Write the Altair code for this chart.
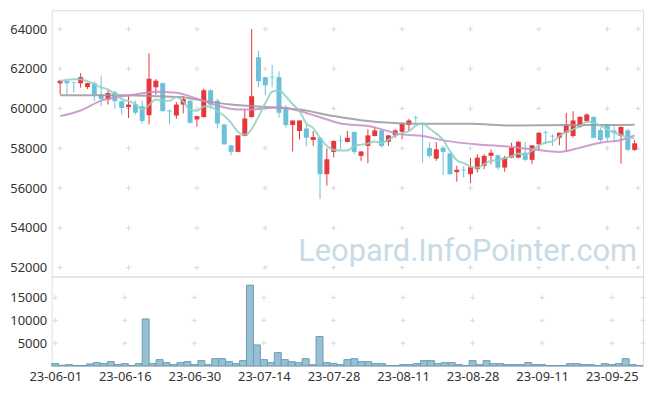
import altair as alt
import pandas as pd
import numpy as np

# ---------------- data ----------------
tick_idx = [0, 10, 20, 30, 40, 50, 60, 70, 80]
tick_labels = ["23-06-01", "23-06-16", "23-06-30", "23-07-14", "23-07-28",
               "23-08-11", "23-08-28", "23-09-11", "23-09-25"]

opens = [61270, 61400, 61330, 61270, 61080, 61280, 60700, 60450, 60820, 60370,
         60070, 60220, 60120, 59665, 61070, 61280, 59900, 59650, 60200, 60400,
         59450, 59570, 60920, 60400, 59200, 58150, 57820, 58620, 59570, 62580,
         61580, 61600, 61580, 60080, 59170, 58870, 59000, 58420, 58530, 56700,
         57820, 58400, 58320, 58820, 57620, 58120, 58620, 58900, 58330, 58650,
         58830, 59170, 59550, 59250, 58020, 57480, 58030, 57750, 56800, 56930,
         56700, 56950, 57120, 57620, 57650, 57030, 57530, 57530, 57780, 57420,
         58200, 58800, 58630, 58530, 58780, 58620, 59080, 59370, 59580, 58920,
         59200, 58900, 58620, 58900, 57920]
highs = [61450, 61420, 61350, 61780, 61300, 61370, 61650, 60950, 60900, 60400,
         60620, 60400, 60400, 62780, 61480, 61300, 59950, 60320, 60620, 60420,
         59620, 61000, 60980, 60500, 59220, 58170, 58650, 59950, 64000, 62900,
         61600, 62200, 61870, 60170, 59400, 59400, 59200, 58870, 58550, 58000,
         58400, 58650, 58870, 58850, 57850, 58950, 59070, 58950, 58650, 58950,
         59320, 59480, 59650, 59270, 58300, 58300, 58120, 57770, 57120, 57100,
         57530, 57700, 57700, 57950, 57670, 57620, 58280, 58370, 58320, 58150,
         58820, 58900, 58700, 58780, 59780, 59870, 59620, 59750, 59600, 59030,
         59200, 59200, 59080, 58980, 58420]
lows = [60700, 60700, 60800, 61050, 60980, 60370, 60120, 60200, 59990, 59700,
        59520, 59700, 59250, 59200, 60700, 59850, 59200, 59480, 59750, 59250,
        59080, 59550, 59950, 59000, 58180, 57650, 57800, 58600, 59550, 61070,
        60670, 61070, 59540, 59040, 57840, 58450, 58120, 58120, 55450, 56120,
        57540, 57950, 58300, 57700, 57370, 57250, 58600, 58050, 58120, 58530,
        58450, 58870, 59300, 57280, 57530, 57370, 56650, 56650, 56320, 56530,
        56250, 56790, 56950, 57200, 56920, 56820, 57500, 57500, 57370, 57200,
        57950, 58200, 58120, 58150, 57820, 58530, 59030, 59280, 58500, 58320,
        58370, 58320, 57230, 57870, 57870]
closes = [61400, 61270, 61300, 61580, 61280, 60700, 60480, 60780, 60370, 60030,
          60200, 59790, 59370, 61500, 61400, 59870, 59850, 60200, 60480, 59280,
          59620, 60920, 60200, 59250, 58200, 57820, 58650, 59500, 60620, 61370,
          61170, 61570, 59790, 59170, 59400, 59400, 58530, 58570, 56700, 57450,
          58370, 58370, 58530, 57820, 57840, 58650, 58900, 58120, 58650, 58900,
          59230, 59400, 59520, 59200, 57620, 57950, 57820, 56700, 56920, 56890,
          57050, 57530, 57620, 57780, 57030, 57530, 58030, 58330, 57420, 58150,
          58780, 58770, 58600, 58780, 59200, 59400, 59580, 59700, 58530, 58420,
          58530, 58780, 59080, 57920, 58250]
volumes = [510, 150, 290, 100, 100, 440, 730, 510, 950, 290,
           510, 100, 510, 10300, 510, 1390, 730, 290, 730, 950,
           290, 1170, 290, 1600, 1600, 950, 510, 1170, 17700, 4600,
           1390, 730, 2920, 1390, 950, 730, 1600, 290, 6450, 730,
           510, 290, 1390, 1600, 950, 950, 510, 510, 100, 100,
           290, 290, 510, 1170, 1170, 510, 730, 730, 290, 100,
           1170, 290, 1170, 510, 510, 290, 290, 290, 730, 290,
           290, 100, 100, 100, 510, 510, 290, 290, 100, 510,
           290, 510, 1600, 290, 100]

# first four MA5 values (need data before the window)
ma5_head = [61370, 61450, 61480, 61470]

# MA20 (purple) and MA60 (gray)
ma20_idx = [0, 3, 6, 10, 14, 17, 20, 23, 26, 28, 32, 35, 39, 41, 45, 50, 53, 56,
            62, 65, 69, 73, 76, 79, 82, 84]
ma20_val = [59620, 59900, 60400, 60650, 60850, 60800, 60500, 60150, 59950, 59950,
            60070, 59880, 59450, 59250, 59120, 58700, 58620, 58400, 58170, 58100,
            57950, 57820, 58030, 58280, 58420, 58650]
ma60_idx = [0, 10, 14, 18, 20, 25, 30, 35, 40, 45, 50, 55, 60, 66, 75, 84]
ma60_val = [60670, 60670, 60620, 60570, 60450, 60200, 60080, 59950, 59620, 59370,
            59250, 59230, 59230, 59150, 59170, 59180]

price_ticks = [52000, 54000, 56000, 58000, 60000, 62000, 64000]
vol_ticks = [5000, 10000, 15000]

# ---------------- tables ----------------
n = len(opens)
df = pd.DataFrame({"i": list(range(n)), "open": opens, "high": highs,
                   "low": lows, "close": closes, "vol": volumes})
df["dir"] = np.where(df["close"] >= df["open"], "up", "down")
df["x0"] = df["i"] - 0.5
df["x1"] = df["i"] + 0.5
df["zero"] = 0
ma5 = df["close"].rolling(5).mean()
ma5.iloc[:4] = ma5_head
df["ma5"] = ma5

ma20_df = pd.DataFrame({"i": ma20_idx, "v": ma20_val})
ma60_df = pd.DataFrame({"i": ma60_idx, "v": ma60_val})

cross_x = tick_idx + [n - 0.5]
cross_p = pd.DataFrame([(a, b) for a in cross_x for b in price_ticks], columns=["i", "v"])
cross_v = pd.DataFrame([(a, b) for a in cross_x for b in vol_ticks], columns=["i", "v"])

label_expr = "[" + ",".join("'%s'" % t for t in tick_labels) + "][floor(datum.value/10)]"

FONT = "Noto Sans"
xscale = alt.Scale(domain=[-0.5, n - 0.5], nice=False, zero=False)
pscale = alt.Scale(domain=[51550, 64950], nice=False, zero=False)
vscale = alt.Scale(domain=[0, 19600], nice=False)
W = 595

color = alt.Color("dir:N", scale=alt.Scale(domain=["up", "down"],
                                           range=["#e8363b", "#6cc1d9"]), legend=None)

yaxis_p = alt.Axis(values=price_ticks, grid=False, ticks=False, domain=False,
                   labelFontSize=13, labelColor="#333333", labelFont=FONT, format="d",
                   labelPadding=5, title=None)
yaxis_v = alt.Axis(values=vol_ticks, grid=False, ticks=False, domain=False,
                   labelFontSize=13, labelColor="#333333", labelFont=FONT, format="d",
                   labelPadding=5, title=None)

cross_shape = "M-1,0L1,0M0,-1L0,1"

base = alt.Chart(df)

p_cross = alt.Chart(cross_p).mark_point(shape=cross_shape, size=25, filled=False,
                                         stroke="#dadada", strokeWidth=1, opacity=1).encode(
    x=alt.X("i:Q", scale=xscale, axis=None),
    y=alt.Y("v:Q", scale=pscale, axis=yaxis_p))

watermark = alt.Chart(pd.DataFrame({"t": ["Leopard.InfoPointer.com"]})).mark_text(
    align="right", baseline="alphabetic", fontSize=31, font="Roboto",
    color="#c8dae5").encode(text="t:N", x=alt.value(589), y=alt.value(252))

wicks = base.mark_rule(strokeWidth=1).encode(
    x=alt.X("i:Q", scale=xscale, axis=None),
    y=alt.Y("low:Q", scale=pscale, axis=yaxis_p), y2="high:Q", color=color)
bodies = base.mark_bar(size=5).encode(
    x=alt.X("i:Q", scale=xscale, axis=None),
    y=alt.Y("open:Q", scale=pscale), y2="close:Q", color=color)

line5 = base.mark_line(interpolate="monotone", strokeWidth=2, color="#8fd0c3",
                       opacity=0.85).encode(
    x=alt.X("i:Q", scale=xscale, axis=None), y=alt.Y("ma5:Q", scale=pscale))
line20 = alt.Chart(ma20_df).mark_line(interpolate="monotone", strokeWidth=2,
                                      color="#c98cc6", opacity=0.85).encode(
    x=alt.X("i:Q", scale=xscale, axis=None), y=alt.Y("v:Q", scale=pscale))
line60 = alt.Chart(ma60_df).mark_line(interpolate="monotone", strokeWidth=2,
                                      color="#999999", opacity=0.85).encode(
    x=alt.X("i:Q", scale=xscale, axis=None), y=alt.Y("v:Q", scale=pscale))

price = alt.layer(p_cross, watermark, wicks, bodies, line60, line20, line5).properties(
    width=W, height=268)

v_cross = alt.Chart(cross_v).mark_point(shape=cross_shape, size=25, filled=False,
                                         stroke="#dadada", strokeWidth=1, opacity=1).encode(
    x=alt.X("i:Q", scale=xscale),
    y=alt.Y("v:Q", scale=vscale, axis=yaxis_v))
vbars = base.mark_bar(fill="#97c0d3", stroke="#6c9db7", strokeWidth=1).encode(
    x=alt.X("x0:Q", scale=xscale,
            axis=alt.Axis(values=tick_idx, labelExpr=label_expr, grid=False,
                          ticks=False, domain=False, labelFontSize=13,
                          labelColor="#333333", labelFont=FONT, labelPadding=5,
                          title=None, labelFlush=False)),
    x2="x1:Q",
    y=alt.Y("vol:Q", scale=vscale, axis=yaxis_v),
    y2="zero:Q")

volume = alt.layer(v_cross, vbars).properties(width=W, height=90)

chart = alt.vconcat(price, volume, spacing=0, bounds="flush").properties(
    padding={"left": 1, "top": 0, "right": 1, "bottom": 0}
).configure_view(stroke="#e3e3e3", strokeWidth=1).configure(background="white")

chart.save("out.html", embed_options={"renderer": "svg", "actions": False})
